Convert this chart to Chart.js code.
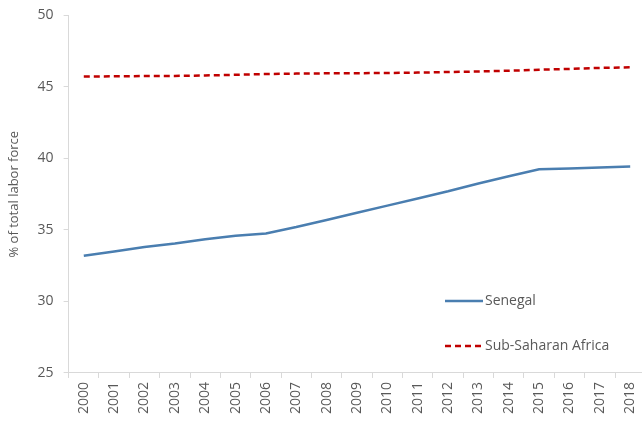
<!DOCTYPE html>
<html>
<head>
<meta charset="utf-8">
<script src="https://cdn.jsdelivr.net/npm/chart.js@4/dist/chart.umd.min.js"></script>
<style>
  html, body { margin: 0; padding: 0; background: #fff; overflow: hidden; }
  #wrap { width: 651px; height: 427px; position: relative; top: -3px; }
</style>
</head>
<body>
<div id="wrap"><canvas id="chart"></canvas></div>
<script>
const years = ["2000","2001","2002","2003","2004","2005","2006","2007","2008","2009",
  "2010","2011","2012","2013","2014","2015","2016","2017","2018"];
const senegal = [33.2, 33.5, 33.8, 34.05, 34.35, 34.6, 34.75, 35.2, 35.7, 36.2,
  36.7, 37.2, 37.7, 38.25, 38.75, 39.25, 39.3, 39.37, 39.43];
const subSaharan = [45.72, 45.74, 45.76, 45.77, 45.8, 45.85, 45.9, 45.93, 45.95, 45.96,
  45.97, 46.0, 46.04, 46.08, 46.13, 46.2, 46.26, 46.33, 46.37];
const yTicks = [25, 30, 35, 40, 45, 50];

const grey = "#595959";
const font = "'Open Sans', 'Noto Sans', sans-serif";

// legend drawn inside the plot, bottom right (canvas is shifted up 3px)
const insideLegend = {
  id: "insideLegend",
  afterDraw(chart) {
    const ctx = chart.ctx;
    const x0 = 445, rows = [304, 349];
    chart.data.datasets.forEach((ds, i) => {
      const y = rows[i];
      ctx.save();
      ctx.strokeStyle = ds.borderColor;
      ctx.lineWidth = ds.borderWidth;
      ctx.setLineDash(ds.borderDash || []);
      ctx.beginPath();
      ctx.moveTo(x0, y);
      ctx.lineTo(x0 + 38, y);
      ctx.stroke();
      ctx.setLineDash([]);
      ctx.fillStyle = grey;
      ctx.font = "14px " + font;
      ctx.textBaseline = "middle";
      ctx.fillText(ds.label, x0 + 40, y);
      ctx.restore();
    });
  }
};

new Chart(document.getElementById("chart"), {
  type: "line",
  data: {
    labels: years,
    datasets: [
      {
        label: "Senegal",
        data: senegal,
        borderColor: "#4a7eb0",
        borderWidth: 2.5,
        pointRadius: 0,
        tension: 0,
      },
      {
        label: "Sub-Saharan Africa",
        data: subSaharan,
        borderColor: "#c00000",
        borderWidth: 2.5,
        borderDash: [6, 4],
        pointRadius: 0,
        tension: 0,
      },
    ],
  },
  options: {
    responsive: true,
    maintainAspectRatio: false,
    animation: false,
    layout: { padding: { top: 0, right: 0, left: 6, bottom: 6 } },
    plugins: {
      legend: { display: false },
      tooltip: { enabled: false },
    },
    scales: {
      x: {
        offset: true,
        grid: {
          offset: true,
          drawOnChartArea: false,
          tickLength: 5,
          color: "#d9d9d9",
        },
        border: { color: "#d9d9d9" },
        ticks: {
          color: grey,
          font: { family: font, size: 14 },
          minRotation: 90,
          maxRotation: 90,
          autoSkip: false,
          padding: 4,
        },
      },
      y: {
        min: 25,
        max: 50,
        afterBuildTicks: (axis) => {
          axis.ticks = yTicks.map((v) => ({ value: v }));
        },
        grid: {
          drawOnChartArea: false,
          tickLength: 5,
          color: "#d9d9d9",
        },
        border: { color: "#d9d9d9" },
        ticks: {
          color: grey,
          font: { family: font, size: 14 },
          padding: 10,
        },
        title: {
          display: true,
          text: "% of total labor force",
          color: grey,
          font: { family: font, size: 13 },
          padding: { top: 0, bottom: 6 },
        },
      },
    },
  },
  plugins: [insideLegend],
});
</script>
</body>
</html>
